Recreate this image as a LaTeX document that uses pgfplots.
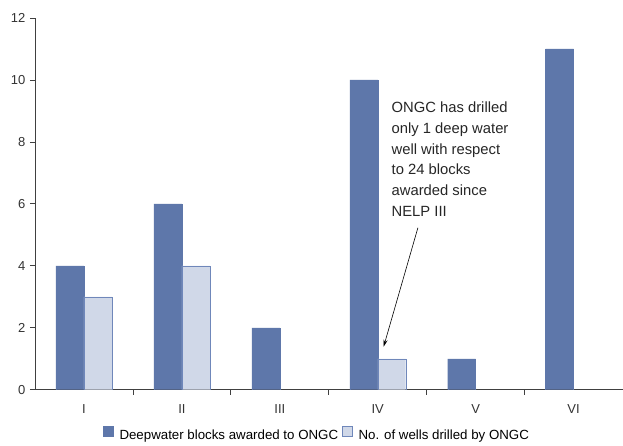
\documentclass[border=0pt]{standalone}
\usepackage{pgfplots}
\pgfplotsset{compat=1.18}
\usepackage{fontspec}
\setmainfont{Liberation Sans}
\usetikzlibrary{arrows.meta}
\definecolor{darkblue}{HTML}{5E77AA}
\definecolor{lightblue}{HTML}{D0D8E8}
\definecolor{lightedge}{HTML}{6F87BA}
\begin{document}
\begin{tikzpicture}
\begin{axis}[
  scale only axis,
  width=588pt, height=372pt,
  ybar=0pt, bar width=28pt,
  xmin=-0.5, xmax=5.5,
  ymin=0, ymax=12,
  ytick={0,2,...,12},
  % category boundaries carry the tick marks, the names sit between them
  xtick={0.5,1.5,2.5,3.5,4.5},
  xticklabels={},
  extra x ticks={0,1,2,3,4,5},
  extra x tick labels={I,II,III,IV,V,VI},
  extra x tick style={tick style={draw=none}},
  major tick length=5pt,
  tick align=outside,
  axis x line*=bottom,
  axis y line*=left,
  axis line style={black!75, line width=0.8pt},
  tick style={black!75, line width=0.8pt},
  tick label style={font=\fontsize{13}{15}\selectfont, text=black!80},
  xticklabel style={yshift=-6pt},
  yticklabel style={xshift=-1pt},
  /pgf/number format/assume math mode=true,
  legend style={draw=none, at={(0.48,-0.121)}, anchor=center,
    legend columns=-1, font=\fontsize{13.3}{15}\selectfont,
    /tikz/every even column/.append style={column sep=2pt}},
  legend image code/.code={\draw[#1] (0pt,-1pt) rectangle (10pt,9pt);},
]
\addplot[fill=darkblue, draw=darkblue] coordinates {(0,4) (1,6) (2,2) (3,10) (4,1) (5,11)};
\addlegendentry{\hspace{4pt}Deepwater blocks awarded to ONGC}
\addplot[fill=lightblue, draw=lightedge] coordinates {(0,3) (1,4) (3,1)};
\addlegendentry{\hspace{4pt}No. of wells drilled by ONGC}
\coordinate (o) at (rel axis cs:0,0);
\coordinate (tr) at (rel axis cs:1,1);
\node[anchor=north west, align=left, inner sep=0pt, text=black!85,
  font=\fontsize{14.8}{20.8}\selectfont] at (axis cs:3.14,9.3)
  {ONGC has drilled\\only 1 deep water\\well with respect\\to 24 blocks\\awarded since\\NELP III};
\draw[-{Stealth[length=7pt,width=4pt]}, black, line width=0.6pt] (axis cs:3.41,5.23) -- (axis cs:3.06,1.39);
\end{axis}
\path ([shift={(-35pt,-52pt)}]o) rectangle ([shift={(0pt,18pt)}]tr);
\end{tikzpicture}
\end{document}
